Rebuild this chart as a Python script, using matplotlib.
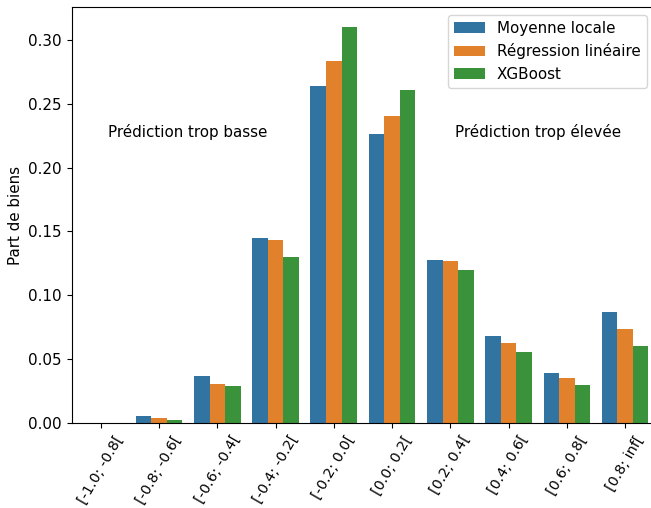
import matplotlib
matplotlib.use("Agg")
import matplotlib.pyplot as plt
import pandas as pd
import seaborn as sns

tranches = ['[-1.0; -0.8[', '[-0.8; -0.6[', '[-0.6; -0.4[', '[-0.4; -0.2[', '[-0.2; 0.0[',
            '[0.0; 0.2[', '[0.2; 0.4[', '[0.4; 0.6[', '[0.6; 0.8[', '[0.8; inf[']
moyenne_locale = [0.0002, 0.0055, 0.037, 0.145, 0.264, 0.226, 0.128, 0.068, 0.039, 0.087]
regression_lineaire = [0.0001, 0.0037, 0.031, 0.143, 0.283, 0.240, 0.127, 0.063, 0.035, 0.074]
xgboost = [0.0001, 0.0026, 0.029, 0.130, 0.310, 0.261, 0.120, 0.056, 0.030, 0.060]

modeles = ['Moyenne locale', 'Régression linéaire', 'XGBoost']
valeurs = [moyenne_locale, regression_lineaire, xgboost]

lignes = []
for nom, serie in zip(modeles, valeurs):
    for t, v in zip(tranches, serie):
        lignes.append({'Tranche': t, 'Modèle': nom, 'Part': v})
df = pd.DataFrame(lignes)

plt.rcParams['font.size'] = 10.9

fig = plt.figure(figsize=(6.51, 5.08), dpi=100)
ax = fig.add_axes([0.11, 0.167, 0.895, 0.819])
sns.barplot(data=df, x='Tranche', y='Part', hue='Modèle', ax=ax)

ax.set_xlabel('')
ax.set_ylabel('Part de biens')
plt.xticks(rotation=60, fontsize=10.3)
ax.text(1.5, 0.228, 'Prédiction trop basse', ha='center', va='center')
ax.text(7.5, 0.228, 'Prédiction trop élevée', ha='center', va='center')
ax.legend(loc='upper right', title=None)

fig.savefig('out.png', dpi=100)
